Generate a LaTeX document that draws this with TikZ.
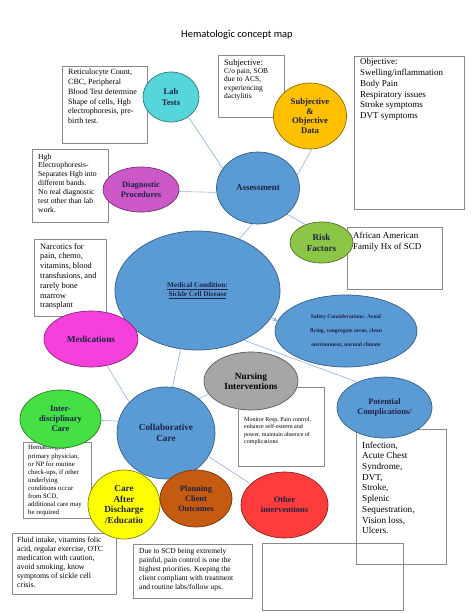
\documentclass[tikz,border=0pt]{standalone}
\usepackage{fontspec}
\setmainfont{Liberation Serif}
\newfontfamily\titlefont{Carlito}
\usetikzlibrary{shapes.geometric,arrows.meta}
\definecolor{labc}{HTML}{56D6DA}
\definecolor{subjc}{HTML}{FFC000}
\definecolor{diagc}{HTML}{CC58C8}
\definecolor{bluec}{HTML}{5B9BD5}
\definecolor{riskc}{HTML}{8DC646}
\definecolor{medsc}{HTML}{F540DB}
\definecolor{nursec}{HTML}{A6A6A6}
\definecolor{interc}{HTML}{44E044}
\definecolor{carec}{HTML}{FFFF00}
\definecolor{planc}{HTML}{C55A11}
\definecolor{otherc}{HTML}{FF3C3C}
\definecolor{connc}{HTML}{8EB4E3}
\definecolor{boxc}{HTML}{8A8A8A}
\definecolor{inkc}{HTML}{1C2244}
\newcommand\myfs[2]{\fontsize{#1}{#2}\selectfont}
\begin{document}
\begin{tikzpicture}[x=1pt,y=-1pt,
  box/.style={draw=boxc,line width=0.75pt,anchor=north west,inner sep=0pt},
  btxt/.style={anchor=north west,align=left,inner sep=0pt,text=black},
  bubble/.style={ellipse,line width=0.7pt,inner sep=0pt,align=center,text=inkc},
  conn/.style={draw=connc,line width=0.6pt}]
\useasboundingbox (0,0) rectangle (474,613);
\fill[white] (0,0) rectangle (474,613);

\node[font=\titlefont\myfs{10.5}{12}] (title) at (237,35) {Hematologic concept map};

% boxes
\node[box,minimum width=85pt,minimum height=77pt] (labbox) at (62,66) {};
\node[btxt,font=\myfs{8}{9.8}] (labtxt) at (68,69) {Reticulocyte Count,\\CBC, Peripheral\\Blood Test determine\\Shape of cells, Hgb\\electrophoresis, pre-\\birth test.};

\node[box,minimum width=66pt,minimum height=62pt] (subjbox) at (218,55) {};
\node[btxt,font=\myfs{7.5}{8.3}] (subjtxt) at (224,59) {{\myfs{8.6}{9.5}Subjective:}\\C/o pain, SOB\\due to ACS,\\experiencing\\dactylitis};

\node[box,minimum width=110pt,minimum height=153pt] (objbox) at (354,56) {};
\node[btxt,font=\myfs{9}{10.7}] (objtxt) at (360,58.5) {Objective:\\Swelling/inflammation\\Body Pain\\Respiratory issues\\Stroke symptoms\\DVT symptoms};

\node[box,minimum width=76pt,minimum height=73pt] (hgbbox) at (32,149) {};
\node[btxt,font=\myfs{7.7}{8.9}] (hgbtxt) at (38,153.5) {Hgb\\Electrophoresis-\\Separates Hgb into\\different bands.\\No real diagnostic\\test other than lab\\work.};

\node[box,minimum width=95pt,minimum height=62pt] (riskbox) at (347,227) {};
\node[btxt,font=\myfs{9}{10.7}] (risktxt) at (353,232) {African American\\Family Hx of SCD};

\node[box,minimum width=72pt,minimum height=77pt] (medbox) at (34,239) {};
\node[btxt,font=\myfs{8.3}{9.8}] (medtxt) at (40,243) {Narcotics for\\pain, chemo,\\vitamins, blood\\transfusions, and\\rarely bone\\marrow\\transplant};

\node[box,minimum width=86pt,minimum height=79pt] (nursebox) at (238,387) {};
\node[btxt,font=\myfs{6}{7.5}] (nursetxt) at (244,417) {Monitor Resp, Pain control,\\enhance self-esteem and\\power, maintain absence of\\complications};

\node[box,minimum width=90pt,minimum height=135pt] (potbox) at (356,429) {};
\node[btxt,font=\myfs{9.2}{10.7}] (pottxt) at (362,441.5) {Infection,\\Acute Chest\\Syndrome,\\DVT,\\Stroke,\\Splenic\\Sequestration,\\Vision loss,\\Ulcers.};

\node[box,minimum width=68pt,minimum height=76pt] (interbox) at (23,442) {};
\node[btxt,font=\myfs{6.8}{8.1}] (intertxt) at (28,445) {Hematologist,\\primary physician,\\or NP for routine\\check-ups, if other\\underlying\\conditions occur\\from SCD,\\additional care may\\be required};

\node[box,minimum width=104pt,minimum height=61pt] (carebox) at (12,533) {};
\node[btxt,font=\myfs{7.8}{9}] (caretxt) at (17,537) {Fluid intake, vitamins folic\\acid, regular exercise, OTC\\medication with caution,\\avoid smoking, know\\symptoms of sickle cell\\crisis.};

\node[box,minimum width=119pt,minimum height=54pt] (planbox) at (133,544) {};
\node[btxt,font=\myfs{7.5}{8.9}] (plantxt) at (139,548) {Due to SCD being extremely\\painful, pain control is one the\\highest priorities. Keeping the\\client compliant with treatment\\and routine labs/follow ups.};

\node[box,minimum width=141pt,minimum height=67pt] (otherbox) at (262,543) {};

% bubbles
\node[bubble,fill=labc,draw=labc!55!black,minimum width=56pt,minimum height=50pt,font=\bfseries\myfs{8.5}{10.5}] (lab) at (171,97) {Lab\\Tests};
\node[bubble,fill=subjc,draw=subjc!55!black,minimum width=73pt,minimum height=66pt,font=\bfseries\myfs{8.7}{9.7}] (subj) at (310,116) {Subjective\\\&\\Objective\\Data};
\node[bubble,fill=diagc,draw=diagc!55!black,minimum width=76pt,minimum height=45pt,font=\bfseries\myfs{8.4}{9.7}] (diag) at (141,189.5) {Diagnostic\\Procedures};
\node[bubble,fill=bluec,draw=bluec!60!black,minimum width=83pt,minimum height=72pt,font=\bfseries\myfs{9}{10}] (assess) at (258,188) {Assessment};
\node[bubble,fill=riskc,draw=riskc!55!black,minimum width=63pt,minimum height=41pt,font=\bfseries\myfs{9.1}{11}] (risk) at (321.5,242.5) {Risk\\Factors};
\node[bubble,fill=bluec,draw=bluec!60!black,minimum width=165pt,minimum height=119pt,font=\bfseries\myfs{7.3}{9}] (medc) at (197.5,290.5) {\underline{Medical Condition:}\\\underline{Sickle Cell Disease}};
\node[bubble,fill=bluec,draw=bluec!60!black,minimum width=142pt,minimum height=72pt,font=\bfseries\myfs{5.6}{14}] (safety) at (346,331) {Safety Considerations: Avoid\\flying, congregate areas, clean\\environment, normal climate};
\node[bubble,fill=medsc,draw=medsc!55!black,minimum width=94pt,minimum height=56pt,font=\bfseries\myfs{9.2}{10.5}] (med) at (91,339) {Medications};
\node[bubble,fill=nursec,draw=nursec!55!black,minimum width=94pt,minimum height=58pt,font=\bfseries\myfs{9.3}{10.3},text=black] (nurse) at (251,381) {Nursing\\Interventions};
\node[bubble,fill=bluec,draw=bluec!60!black,minimum width=95pt,minimum height=61pt,font=\bfseries\myfs{8.4}{9.7}] (pot) at (384.5,407.5) {Potential\\Complications/};
\node[bubble,fill=bluec,draw=bluec!60!black,minimum width=98pt,minimum height=92pt,font=\bfseries\myfs{9.3}{10.5}] (collab) at (166,433) {Collaborative\\Care};
\node[bubble,fill=interc,draw=interc!55!black,minimum width=81pt,minimum height=58pt,font=\bfseries\myfs{8.5}{10}] (inter) at (60.5,419) {Inter-\\disciplinary\\Care};
\node[bubble,fill=carec,draw=carec!50!black,minimum width=72pt,minimum height=69pt,font=\bfseries\myfs{9.2}{10.8}] (care) at (124,504.5) {Care\\After\\Discharge\\/Educatio};
\node[bubble,fill=planc,draw=planc!60!black,minimum width=72pt,minimum height=57pt,font=\bfseries\myfs{8.3}{10}] (plan) at (196,498.5) {Planning\\Client\\Outcomes};
\node[bubble,fill=otherc,draw=otherc!55!black,minimum width=87pt,minimum height=66pt,font=\bfseries\myfs{8.4}{10}] (other) at (284.5,505) {Other\\interventions};

% connectors
\draw[conn] (lab.-49) -- (assess.151);
\draw[conn] (diag.-3) -- (assess.186);
\draw[conn] (subj.-87) -- (assess.18);
\draw[conn] (assess.-42) -- (risk.132);
\draw[conn] (assess.-99) -- (medc.51);
\draw[conn] (med.-59) -- (collab.140);
\draw[conn] (medc.-106) -- (collab.82);
\draw[conn] (medc.-47) -- (pot.137);
\draw[conn] (collab.166) -- (inter.-2);
\draw[conn] (collab.46) -- (nurse.197);
\draw[conn] (collab.-118) -- (care.60);
\draw[conn] (collab.-29) -- (other.148);
\draw[conn,-{Triangle[length=4pt,width=4pt]}] (medc.-20) -- (safety.172);
\end{tikzpicture}
\end{document}
